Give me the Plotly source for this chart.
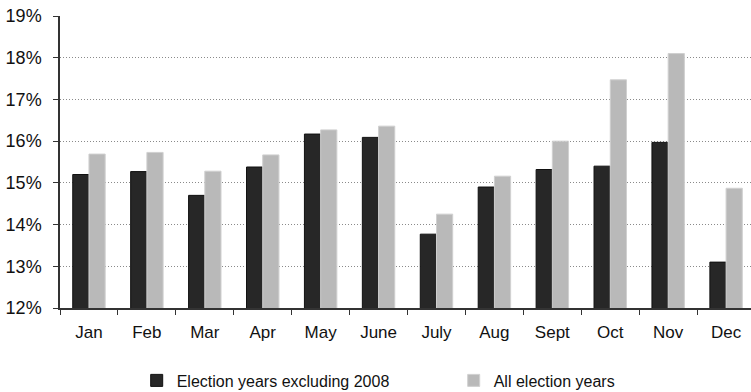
import plotly.graph_objects as go

months = ["Jan", "Feb", "Mar", "Apr", "May", "June", "July", "Aug", "Sept", "Oct", "Nov", "Dec"]
excl_2008 = [15.2, 15.27, 14.7, 15.38, 16.17, 16.09, 13.77, 14.9, 15.32, 15.4, 15.97, 13.1]
all_years = [15.69, 15.73, 15.28, 15.67, 16.27, 16.36, 14.25, 15.16, 16.0, 17.47, 18.1, 14.87]
y_ticks = [12, 13, 14, 15, 16, 17, 18, 19]

FONT = "Liberation Sans, Arial, sans-serif"

fig = go.Figure()
fig.add_trace(go.Bar(
    x=months, y=excl_2008, name="Election years excluding 2008",
    marker=dict(color="#272727", line=dict(color="#111111", width=1)),
))
fig.add_trace(go.Bar(
    x=months, y=all_years, name="All election years",
    marker=dict(color="#b9b9b9", line=dict(color="#d0d0d0", width=1)),
))

fig.update_layout(
    width=751, height=392,
    margin=dict(l=60, r=0, t=16, b=84, autoexpand=False),
    paper_bgcolor="white", plot_bgcolor="white",
    barmode="group", bargap=0.44, bargroupgap=0,
    font=dict(family=FONT, size=16, color="#111111"),
    showlegend=True,
    legend=dict(orientation="h", x=0.111, xanchor="left", y=-0.19, yanchor="top",
                font=dict(size=16), itemwidth=30, traceorder="normal",
                entrywidth=272, entrywidthmode="pixels"),
)
fig.update_xaxes(
    range=[-0.5, 11.43],
    showline=True, linecolor="#333333", linewidth=1.5,
    ticks="outside", ticklen=5, tickcolor="#333333", tickson="boundaries",
    showgrid=False, tickfont=dict(size=17), ticklabelstandoff=8,
)
fig.update_yaxes(
    range=[12, 19], tickvals=y_ticks, ticktext=[f"{v}%" for v in y_ticks],
    showline=True, linecolor="#333333", linewidth=1.5,
    ticks="outside", ticklen=5, tickcolor="#333333",
    showgrid=True, gridcolor="#8a8a8a", gridwidth=1, griddash="1px,2px",
    zeroline=False, tickfont=dict(size=18), ticklabelstandoff=8,
)

fig.write_html("out.html")
